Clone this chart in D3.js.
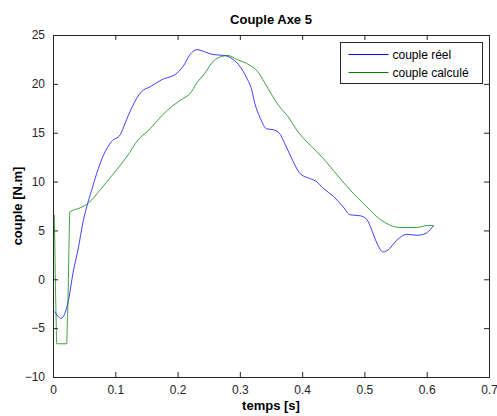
<!DOCTYPE html>
<html>
<head>
<meta charset="utf-8">
<script src="https://cdn.jsdelivr.net/npm/d3@7"></script>
<style>
  body { margin: 0; background: #fff; }
  text { font-family: "Liberation Sans", Arial, sans-serif; }
</style>
</head>
<body>
<div id="container"></div>
<script>
/** DATA */
const xTicks = [0, 0.1, 0.2, 0.3, 0.4, 0.5, 0.6, 0.7];
const yTicks = [-10, -5, 0, 5, 10, 15, 20, 25];
const seriesNames = ["couple réel", "couple calculé"];

// couple réel (blue)
const reelT = [0.003, 0.008, 0.013, 0.019, 0.025, 0.032, 0.041, 0.048, 0.054, 0.062, 0.070, 0.081, 0.094, 0.108, 0.116, 0.126, 0.142, 0.156, 0.174, 0.199, 0.209, 0.220, 0.231, 0.247, 0.257, 0.276, 0.289, 0.300, 0.311, 0.319, 0.324, 0.332, 0.343, 0.354, 0.364, 0.372, 0.383, 0.397, 0.413, 0.423, 0.434, 0.450, 0.466, 0.477, 0.493, 0.504, 0.512, 0.520, 0.530, 0.538, 0.552, 0.568, 0.584, 0.595, 0.603, 0.611];
const reelV = [-3.3, -3.8, -4.0, -3.5, -2.1, 0.6, 3.3, 5.8, 7.4, 9.1, 10.8, 12.7, 14.1, 14.8, 16.0, 17.5, 19.2, 19.7, 20.4, 21.1, 21.8, 23.0, 23.5, 23.2, 23.0, 22.9, 22.5, 21.8, 20.6, 19.4, 18.0, 16.6, 15.4, 15.3, 14.9, 13.9, 12.4, 10.8, 10.3, 10.0, 9.3, 8.5, 7.4, 6.6, 6.5, 6.1, 5.0, 3.7, 2.8, 3.0, 4.0, 4.6, 4.5, 4.6, 4.9, 5.5];

// couple calculé (green)
const calcT = [0.002, 0.003, 0.004, 0.005, 0.006, 0.022, 0.023, 0.024, 0.025, 0.026, 0.027, 0.043, 0.057, 0.075, 0.097, 0.118, 0.137, 0.156, 0.174, 0.193, 0.209, 0.220, 0.231, 0.244, 0.257, 0.271, 0.281, 0.295, 0.316, 0.328, 0.340, 0.351, 0.362, 0.378, 0.391, 0.407, 0.423, 0.439, 0.461, 0.482, 0.504, 0.520, 0.536, 0.557, 0.584, 0.600, 0.611];
const calcV = [6.6, 3.3, -1.0, -4.0, -6.6, -6.6, -4.5, -2.5, 1.0, 4.5, 6.9, 7.3, 7.8, 9.1, 10.8, 12.5, 14.3, 15.4, 16.7, 17.8, 18.5, 19.0, 20.1, 21.1, 22.3, 22.8, 22.9, 22.5, 21.9, 21.3, 20.1, 18.9, 17.8, 16.6, 15.3, 14.1, 13.1, 12.0, 10.3, 8.8, 7.4, 6.4, 5.7, 5.3, 5.3, 5.5, 5.5];

const colors = ["#0000ff", "#008000"];

/** LAYOUT */
const width = 497, height = 416;
const margin = { top: 35, right: 8, bottom: 39, left: 53 };
const innerW = width - margin.left - margin.right;
const innerH = height - margin.top - margin.bottom;

const svg = d3.select("#container").append("svg")
  .attr("width", width)
  .attr("height", height);

const x = d3.scaleLinear().domain([0, 0.7]).range([margin.left, margin.left + innerW]);
const y = d3.scaleLinear().domain([-10, 25]).range([margin.top + innerH, margin.top]);

const g = svg.append("g");

// axes (MATLAB box with inward ticks)
const tickLen = 5;
const axisColor = "#262626";

g.append("g")
  .attr("transform", `translate(0,${margin.top + innerH})`)
  .call(d3.axisBottom(x).tickValues(xTicks).tickSizeInner(-tickLen).tickSizeOuter(0).tickPadding(8).tickFormat(d => d3.format("")(d)))
  .call(a => a.select(".domain").remove());
g.append("g")
  .attr("transform", `translate(0,${margin.top})`)
  .call(d3.axisTop(x).tickValues(xTicks).tickSizeInner(-tickLen).tickSizeOuter(0).tickFormat(""))
  .call(a => a.select(".domain").remove());
g.append("g")
  .attr("transform", `translate(${margin.left},0)`)
  .call(d3.axisLeft(y).tickValues(yTicks).tickSizeInner(-tickLen).tickSizeOuter(0).tickPadding(8))
  .call(a => a.select(".domain").remove());
g.append("g")
  .attr("transform", `translate(${margin.left + innerW},0)`)
  .call(d3.axisRight(y).tickValues(yTicks).tickSizeInner(-tickLen).tickSizeOuter(0).tickFormat(""))
  .call(a => a.select(".domain").remove());

g.selectAll(".tick line").attr("stroke", axisColor);
g.selectAll(".tick text")
  .attr("fill", axisColor)
  .style("font-size", "12px");

// data lines
const line = d3.line().x(d => x(d[0])).y(d => y(d[1])).curve(d3.curveMonotoneX);
const series = [
  d3.zip(reelT, reelV),
  d3.zip(calcT, calcV)
];
svg.append("g").selectAll("path")
  .data(series)
  .join("path")
  .attr("fill", "none")
  .attr("stroke", (d, i) => colors[i])
  .attr("stroke-width", 1)
  .attr("stroke-opacity", 0.75)
  .attr("d", line);

// box
svg.append("rect")
  .attr("x", margin.left + 0.5)
  .attr("y", margin.top + 0.5)
  .attr("width", innerW)
  .attr("height", innerH)
  .attr("fill", "none")
  .attr("stroke", axisColor);

// legend
const legend = svg.append("g").attr("transform", "translate(340.5,42.5)");
legend.append("rect")
  .attr("width", 142)
  .attr("height", 41)
  .attr("fill", "#fff")
  .attr("stroke", axisColor);
seriesNames.forEach((name, i) => {
  const ly = 12 + i * 18;
  legend.append("line")
    .attr("x1", 8).attr("x2", 48)
    .attr("y1", ly).attr("y2", ly)
    .attr("stroke", colors[i]);
  legend.append("text")
    .attr("x", 52).attr("y", ly + 4)
    .style("font-size", "12px")
    .attr("fill", "#000")
    .text(name);
});

// title and labels
svg.append("text")
  .attr("x", margin.left + innerW / 2)
  .attr("y", 24)
  .attr("text-anchor", "middle")
  .style("font-size", "13px")
  .style("font-weight", "bold")
  .text("Couple Axe 5");

svg.append("text")
  .attr("x", margin.left + innerW / 2)
  .attr("y", 410)
  .attr("text-anchor", "middle")
  .style("font-size", "13px")
  .style("font-weight", "bold")
  .text("temps [s]");

svg.append("text")
  .attr("transform", `translate(22,${margin.top + innerH / 2}) rotate(-90)`)
  .attr("text-anchor", "middle")
  .style("font-size", "13px")
  .style("font-weight", "bold")
  .text("couple [N.m]");
</script>
</body>
</html>
